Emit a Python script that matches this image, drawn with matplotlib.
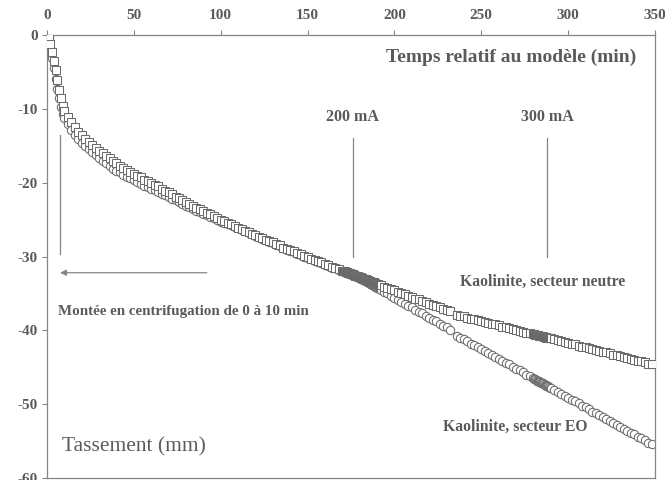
import numpy as np
import matplotlib
matplotlib.use("Agg")
import matplotlib.pyplot as plt

plt.rcParams["font.family"] = ["Liberation Serif", "DejaVu Serif"]
plt.rcParams["axes.unicode_minus"] = False

# Sampling times (min): 1 min during spin-up, 2 min afterwards,
# 0.5 min around the current steps
time_min = np.concatenate([
    np.arange(0, 11, 1),
    np.arange(12, 171, 2),
    np.arange(170.5, 192.1, 0.5),
    np.arange(194, 233, 2),
    np.arange(236, 281, 2),
    np.arange(280.5, 290.1, 0.5),
    np.arange(292, 349, 2),
])

# Settlement (mm), kaolinite, neutral sector
settle_neutre = [
    0, -0.4, -1.2, -2.3, -3.5, -4.8, -6.1, -7.4, -8.6, -9.6, -10.3,
    -11.1, -11.8, -12.5, -13.1, -13.6, -14.1, -14.5, -14.9, -15.3, -15.7,
    -16.0, -16.4, -16.7, -17.1, -17.4, -17.7, -18.0, -18.3, -18.5, -18.8,
    -19.1, -19.3, -19.6, -19.8, -20.0, -20.3, -20.5, -20.8, -21.1, -21.3,
    -21.6, -21.9, -22.1, -22.4, -22.6, -22.9, -23.1, -23.4, -23.6, -23.8,
    -24.1, -24.3, -24.5, -24.8, -25.0, -25.2, -25.4, -25.6, -25.9, -26.1,
    -26.3, -26.5, -26.7, -26.9, -27.1, -27.3, -27.5, -27.7, -27.9, -28.1,
    -28.3, -28.5, -28.8, -29.0, -29.1, -29.3, -29.5, -29.7, -29.9, -30.1,
    -30.3, -30.5, -30.6, -30.8, -31.0, -31.2, -31.4, -31.5, -31.7, -31.9,
    -32.0, -32.0, -32.0, -32.1, -32.1, -32.2, -32.2, -32.3, -32.3, -32.4,
    -32.4, -32.4, -32.5, -32.5, -32.6, -32.6, -32.7, -32.7, -32.8, -32.8,
    -32.8, -32.9, -32.9, -33.0, -33.0, -33.1, -33.1, -33.2, -33.2, -33.3,
    -33.3, -33.3, -33.4, -33.4, -33.5, -33.5, -33.6, -33.6, -33.7, -33.7,
    -33.7, -33.8, -33.8, -33.9,
    -34.1, -34.2, -34.4, -34.6, -34.8, -35.0, -35.1, -35.3, -35.5, -35.7,
    -35.8, -36.0, -36.2, -36.4, -36.6, -36.7, -36.9, -37.1, -37.3, -37.4,
    -37.9, -38.0, -38.1, -38.3, -38.4, -38.5, -38.6, -38.7, -38.9, -39.0,
    -39.1, -39.2, -39.3, -39.5, -39.6, -39.7, -39.8, -39.9, -40.1, -40.2,
    -40.3, -40.4, -40.5,
    -40.5, -40.6, -40.6, -40.6, -40.6, -40.7, -40.7, -40.7, -40.8, -40.8,
    -40.8, -40.9, -40.9, -40.9, -41.0, -41.0, -41.0, -41.1, -41.1, -41.1,
    -41.2, -41.3, -41.5, -41.6, -41.7, -41.8, -41.9, -42.1, -42.2, -42.3,
    -42.4, -42.5, -42.7, -42.8, -42.9, -43.0, -43.1, -43.3, -43.4, -43.5,
    -43.6, -43.7, -43.9, -44.0, -44.1, -44.2, -44.3, -44.5, -44.6,
]

# Settlement (mm), kaolinite, electro-osmosis sector
settle_eo = [
    0, -0.7, -1.8, -3.1, -4.5, -5.9, -7.3, -8.6, -9.8, -10.7, -11.3,
    -12.1, -12.8, -13.5, -14.1, -14.6, -15.1, -15.5, -15.9, -16.3, -16.7,
    -17.0, -17.4, -17.7, -18.1, -18.4, -18.6, -18.9, -19.2, -19.4, -19.7,
    -19.9, -20.2, -20.4, -20.6, -20.8, -21.0, -21.2, -21.5, -21.7, -21.9,
    -22.2, -22.4, -22.6, -22.9, -23.1, -23.3, -23.5, -23.8, -24.0, -24.2,
    -24.4, -24.6, -24.8, -25.1, -25.3, -25.4, -25.6, -25.8, -26.0, -26.2,
    -26.4, -26.6, -26.8, -27.0, -27.2, -27.4, -27.6, -27.8, -28.0, -28.2,
    -28.4, -28.6, -28.9, -29.1, -29.2, -29.4, -29.6, -29.8, -30.0, -30.2,
    -30.4, -30.6, -30.7, -30.9, -31.1, -31.3, -31.5, -31.6, -31.8, -32.0,
    -32.0, -32.1, -32.1, -32.2, -32.2, -32.3, -32.3, -32.4, -32.4, -32.4,
    -32.5, -32.5, -32.6, -32.6, -32.7, -32.7, -32.8, -32.8, -32.9, -32.9,
    -33.0, -33.0, -33.1, -33.2, -33.2, -33.3, -33.3, -33.4, -33.5, -33.5,
    -33.6, -33.7, -33.7, -33.8, -33.9, -33.9, -34.0, -34.1, -34.1, -34.2,
    -34.3, -34.3, -34.4, -34.5,
    -34.8, -35.0, -35.3, -35.6, -35.9, -36.1, -36.4, -36.7, -36.9, -37.2,
    -37.5, -37.7, -38.0, -38.3, -38.6, -38.8, -39.1, -39.4, -39.6, -39.9,
    -40.7, -41.0, -41.2, -41.5, -41.8, -42.0, -42.3, -42.5, -42.8, -43.1,
    -43.3, -43.6, -43.9, -44.1, -44.4, -44.6, -44.9, -45.2, -45.4, -45.7,
    -46.0, -46.2, -46.5,
    -46.6, -46.6, -46.7, -46.8, -46.8, -46.9, -47.0, -47.0, -47.1, -47.2,
    -47.2, -47.3, -47.4, -47.4, -47.5, -47.6, -47.6, -47.7, -47.8, -47.8,
    -48.1, -48.3, -48.6, -48.9, -49.1, -49.4, -49.6, -49.9, -50.2, -50.4,
    -50.7, -51.0, -51.2, -51.5, -51.7, -52.0, -52.3, -52.5, -52.8, -53.1,
    -53.3, -53.6, -53.9, -54.1, -54.4, -54.6, -54.9, -55.2, -55.4,
]

x_ticks = [0, 50, 100, 150, 200, 250, 300, 350]
y_ticks = [0, -10, -20, -30, -40, -50, -60]

# Times at which the electro-osmosis current was stepped up
current_times = [176, 288]
current_labels = ["200 mA", "300 mA"]
spinup_end = 7.5  # end of the centrifuge spin-up, min

ink = "#5a5a5a"
frame = "#858585"
mark = "#6a6a6a"

fig = plt.figure(figsize=(6.65, 4.80), dpi=100)
ax = fig.add_axes([47 / 665, 2 / 480, 608 / 665, 443 / 480])

ax.plot(time_min, settle_eo, linestyle="none", marker="o", ms=6.0,
        mfc="white", mec=mark, mew=0.75, zorder=2)
ax.plot(time_min, settle_neutre, linestyle="none", marker="s", ms=6.4,
        mfc="white", mec=mark, mew=0.75, zorder=3)

ax.set_xlim(0, 350)
ax.set_ylim(-60, 0)
ax.xaxis.tick_top()
ax.set_xticks(x_ticks)
ax.set_yticks(y_ticks)
ax.set_xticklabels([str(v) for v in x_ticks])
ax.set_yticklabels([str(v) for v in y_ticks])
ax.tick_params(axis="both", direction="out", length=3.5, width=0.8,
               color=frame, labelcolor=ink, labelsize=11, pad=3)
ax.tick_params(axis="x", pad=6)
for lab in ax.get_xticklabels() + ax.get_yticklabels():
    lab.set_fontweight("bold")
for sp in ax.spines.values():
    sp.set_color(frame)
    sp.set_linewidth(0.9)

# current step markers
for t, lab in zip(current_times, current_labels):
    ax.plot([t, t], [-13.9, -30.0], color=frame, lw=0.9, zorder=1)
    ax.text(t, -11.1, lab, ha="center", va="center", fontsize=11.5,
            fontweight="bold", color=ink)

# spin-up period
ax.plot([spinup_end, spinup_end], [-13.6, -29.6], color=frame, lw=0.9, zorder=1)
ax.annotate("", xy=(7.5, -32.2), xytext=(92, -32.2),
            arrowprops=dict(arrowstyle="-|>", color=frame, lw=0.9,
                            mutation_scale=9, shrinkA=0, shrinkB=0))

ax.text(0.969, 0.950, "Temps relatif au modèle (min)", transform=ax.transAxes,
        ha="right", va="center", fontsize=14, fontweight="bold", color=ink)
ax.text(0.025, 0.070, "Tassement (mm)", transform=ax.transAxes,
        ha="left", va="center", fontsize=15.5, color=ink)
ax.text(0.018, 0.375, "Montée en centrifugation de 0 à 10 min",
        transform=ax.transAxes, ha="left", va="center", fontsize=10.8,
        fontweight="bold", color=ink)
ax.text(0.679, 0.442, "Kaolinite, secteur neutre", transform=ax.transAxes,
        ha="left", va="center", fontsize=11.3, fontweight="bold", color=ink)
ax.text(0.651, 0.115, "Kaolinite, secteur EO", transform=ax.transAxes,
        ha="left", va="center", fontsize=11.3, fontweight="bold", color=ink)

fig.savefig("out.png", dpi=100)
